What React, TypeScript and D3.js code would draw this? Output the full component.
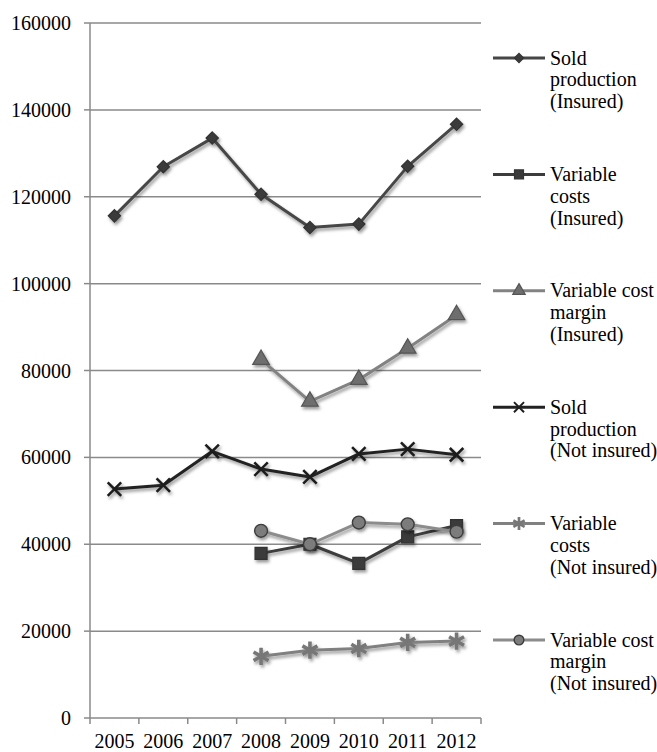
import React from "react";
import * as d3 from "d3";

const years = ["2005", "2006", "2007", "2008", "2009", "2010", "2011", "2012"];
const yTicks = [0, 20000, 40000, 60000, 80000, 100000, 120000, 140000, 160000];

// null = no value for that year
const soldInsured = [115600, 126900, 133500, 120600, 112900, 113700, 127000, 136700];
const varCostsInsured = [null, null, null, 37900, 40000, 35600, 41700, 44300];
const marginInsured = [null, null, null, 82500, 72900, 77900, 85100, 92800];
const soldNotInsured = [52700, 53600, 61400, 57300, 55500, 60800, 61900, 60600];
const varCostsNotInsured = [null, null, null, 14200, 15600, 16000, 17400, 17700];
const marginNotInsured = [null, null, null, 43100, 40000, 45000, 44600, 42900];

const legendLabels = [
  ["Sold", "production", "(Insured)"],
  ["Variable", "costs", "(Insured)"],
  ["Variable cost", "margin", "(Insured)"],
  ["Sold", "production", "(Not insured)"],
  ["Variable", "costs", "(Not insured)"],
  ["Variable cost", "margin", "(Not insured)"],
];

type Marker = "diamond" | "square" | "triangle" | "x" | "star" | "circle";

interface Series {
  values: (number | null)[];
  line: string;
  fill: string;
  stroke: string;
  marker: Marker;
}

const series: Series[] = [
  { values: soldInsured, line: "#464646", fill: "#3a3a3a", stroke: "#333", marker: "diamond" },
  { values: varCostsInsured, line: "#3c3c3c", fill: "#3a3a3a", stroke: "#333", marker: "square" },
  { values: marginInsured, line: "#828282", fill: "#6e6e6e", stroke: "#555", marker: "triangle" },
  { values: soldNotInsured, line: "#222222", fill: "none", stroke: "#1e1e1e", marker: "x" },
  { values: varCostsNotInsured, line: "#808080", fill: "none", stroke: "#777777", marker: "star" },
  { values: marginNotInsured, line: "#8c8c8c", fill: "#7c7c7c", stroke: "#3c3c3c", marker: "circle" },
];

const W = 657;
const H = 752;
const margin = { top: 23, left: 90, right: 176, bottom: 34 };
const FONT = "Liberation Serif";

function markerShape(m: Marker, scale = 1) {
  switch (m) {
    case "diamond":
      return { d: d3.symbol(d3.symbolSquare, 76 * scale * scale)(), rotate: 45, filled: true, sw: 1.2 };
    case "square":
      return { d: d3.symbol(d3.symbolSquare, 144 * scale * scale)(), rotate: 0, filled: true, sw: 1.2 };
    case "triangle":
      return { d: d3.symbol(d3.symbolTriangle, 120 * scale * scale)(), rotate: 0, filled: true, sw: 1.2 };
    case "circle":
      return { d: d3.symbol(d3.symbolCircle, 130 * scale * scale)(), rotate: 0, filled: true, sw: 1.4 };
    case "x":
      return { d: d3.symbol(d3.symbolTimes, 120 * scale * scale)(), rotate: 0, filled: false, sw: 2.6 * scale };
    case "star":
      return { d: d3.symbol(d3.symbolAsterisk, 210 * scale * scale)(), rotate: 0, filled: false, sw: 3.6 * scale };
  }
}

function MarkerPath({ s, x, y, scale = 1 }: { s: Series; x: number; y: number; scale?: number }) {
  const shape = markerShape(s.marker, scale)!;
  return (
    <path
      d={shape.d || ""}
      transform={`translate(${x},${y}) rotate(${shape.rotate})`}
      fill={shape.filled ? s.fill : "none"}
      stroke={s.stroke}
      strokeWidth={shape.sw}
    />
  );
}

export default function App() {
  const x = d3
    .scaleBand<string>()
    .domain(years)
    .range([margin.left, W - margin.right]);
  const y = d3
    .scaleLinear()
    .domain([0, 160000])
    .range([H - margin.bottom, margin.top]);

  const cx = (yr: string) => (x(yr) ?? 0) + x.bandwidth() / 2;

  const line = d3
    .line<number | null>()
    .defined((d) => d !== null)
    .x((_, i) => cx(years[i]))
    .y((d) => y(d as number));

  const x0 = margin.left;
  const x1 = W - margin.right;
  const yBase = y(0);

  const legendX = 493;
  const legendY0 = 58;
  const legendStep = 116.4;
  const textStyle = { fontFamily: FONT, fontSize: "20px" };

  return (
    <div style={{ position: "absolute", left: 0, top: 0 }}>
      <svg width={W} height={H} style={{ display: "block", background: "#fff" }}>
        <defs>
          <filter id="shadow" x="-50%" y="-50%" width="200%" height="200%">
            <feDropShadow dx="1.5" dy="2.5" stdDeviation="1.8" floodColor="#000" floodOpacity="0.4" />
          </filter>
        </defs>

        {/* gridlines */}
        {yTicks.slice(1).map((t) => (
          <line key={t} x1={x0} x2={x1} y1={y(t)} y2={y(t)} stroke="#8a8a8a" strokeWidth={1.5} />
        ))}

        {/* y axis */}
        <line x1={x0} x2={x0} y1={margin.top} y2={yBase} stroke="#8a8a8a" strokeWidth={1.5} />
        {yTicks.map((t) => (
          <g key={t}>
            <line x1={x0 - 6} x2={x0} y1={y(t)} y2={y(t)} stroke="#8a8a8a" strokeWidth={1.5} />
            <text x={71} y={y(t)} dy="0.35em" textAnchor="end" style={textStyle} fill="#000">
              {t}
            </text>
          </g>
        ))}

        {/* x axis */}
        <line x1={x0} x2={x1} y1={yBase} y2={yBase} stroke="#8a8a8a" strokeWidth={1.5} />
        {years.map((yr) => (
          <line
            key={"t" + yr}
            x1={x(yr)}
            x2={x(yr)}
            y1={yBase}
            y2={yBase + 6}
            stroke="#8a8a8a"
            strokeWidth={1.5}
          />
        ))}
        <line x1={x1} x2={x1} y1={yBase} y2={yBase + 6} stroke="#8a8a8a" strokeWidth={1.5} />
        {years.map((yr) => (
          <text key={"l" + yr} x={cx(yr)} y={748} textAnchor="middle" style={textStyle} fill="#000">
            {yr}
          </text>
        ))}

        {/* series */}
        {series.map((s, si) => (
          <g key={si} filter="url(#shadow)">
            <path d={line(s.values) || ""} fill="none" stroke={s.line} strokeWidth={3} strokeLinejoin="round" />
            {s.values.map((v, i) =>
              v === null ? null : <MarkerPath key={i} s={s} x={cx(years[i])} y={y(v)} />
            )}
          </g>
        ))}

        {/* legend */}
        {series.map((s, si) => {
          const ly = legendY0 + si * legendStep;
          return (
            <g key={"lg" + si}>
              <line x1={legendX} x2={legendX + 52} y1={ly} y2={ly} stroke={s.line} strokeWidth={3} />
              <MarkerPath s={s} x={legendX + 26} y={ly} scale={0.75} />
              <text style={textStyle} fill="#000">
                {legendLabels[si].map((t, li) => (
                  <tspan key={li} x={550} y={ly + 6.5 + li * 21.8}>
                    {t}
                  </tspan>
                ))}
              </text>
            </g>
          );
        })}
      </svg>
    </div>
  );
}
